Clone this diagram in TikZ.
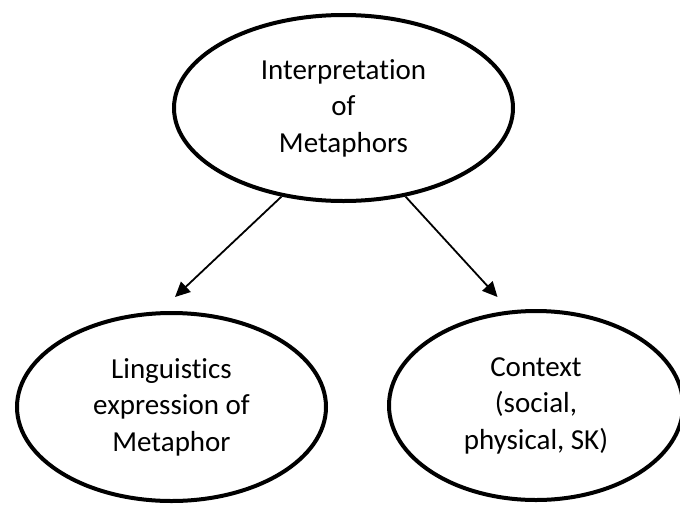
\documentclass[tikz,border=0pt]{standalone}
\usepackage{fontspec}
\setmainfont{Carlito}[Ligatures={NoCommon}]
\usetikzlibrary{shapes.geometric,arrows.meta}
\begin{document}
\begin{tikzpicture}[x=1pt,y=-1pt,
  bubble/.style={ellipse, draw, line width=4pt, inner sep=0pt, align=center,
    font=\fontsize{29}{36.5}\selectfont},
  link/.style={line width=1.8pt, -{Triangle[length=15pt,width=14pt]}}]
\useasboundingbox (0,0) rectangle (680,504);
\node[bubble, minimum width=339pt, minimum height=186pt] (top) at (343.5,108)
  {Interpretation\\of\\Metaphors};
\node[bubble, minimum width=309pt, minimum height=188pt] (left) at (171.5,407)
  {Linguistics\\expression of\\Metaphor};
\node[bubble, minimum width=294pt, minimum height=189pt] (right) at (536,405.5)
  {Context\\(social,\\physical, SK)};
\coordinate (lt) at (175,297);
\coordinate (rt) at (497.5,297);
\draw[link] (top.235) -- (lt);
\draw[link] (top.305.5) -- (rt);
\end{tikzpicture}
\end{document}
